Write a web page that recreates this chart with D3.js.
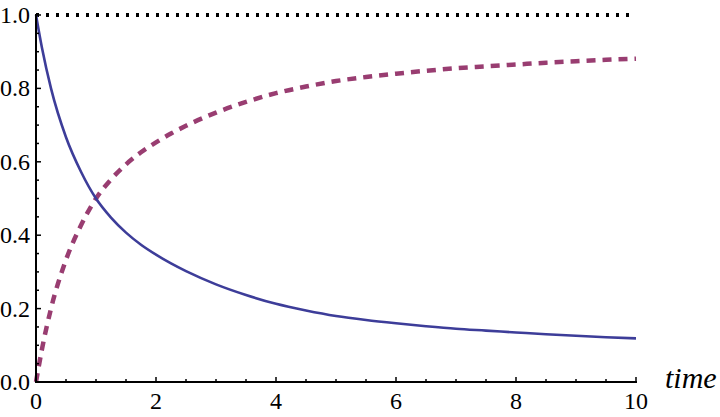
<!DOCTYPE html>
<html>
<head>
<meta charset="utf-8">
<script src="https://cdn.jsdelivr.net/npm/d3@7"></script>
<style>
html,body{margin:0;padding:0;background:#fff;}
svg{display:block;}
</style>
</head>
<body>
<svg id="chart" width="720" height="417"></svg>
<script>
// Data
const times   = [0,0.1,0.25,0.5,0.75,1,1.25,1.5,1.75,2,2.25,2.5,3,3.5,4,4.5,5,5.5,6,6.5,7,7.5,8,8.5,9,9.5,10];
const solidValues  = [1.0,0.91,0.80,0.667,0.573,0.50,0.448,0.407,0.374,0.347,0.323,0.302,0.266,0.237,0.213,0.195,0.180,0.169,0.160,0.152,0.145,0.140,0.135,0.130,0.126,0.122,0.119];
const dashedValues = [0.0,0.09,0.20,0.333,0.427,0.50,0.552,0.593,0.626,0.653,0.677,0.698,0.734,0.763,0.787,0.805,0.820,0.831,0.840,0.848,0.855,0.860,0.865,0.870,0.874,0.878,0.881];
const totalLevel = 1.0;
const xTicks = [0,2,4,6,8,10];
const yTicks = [0,0.2,0.4,0.6,0.8,1.0];
const xLabel = "time";

const FONT = "Liberation Serif, Tinos, Times New Roman, Times, DejaVu Serif, Noto Serif, FreeSerif, serif";

const svg = d3.select("#chart");
const x = d3.scaleLinear().domain([0,10]).range([36,636]);
const y = d3.scaleLinear().domain([0,1]).range([382,15]);

// reference dotted line
svg.append("line")
  .attr("x1", x(0)).attr("x2", x(10))
  .attr("y1", y(totalLevel)).attr("y2", y(totalLevel))
  .attr("stroke","#000").attr("stroke-width",4)
  .attr("stroke-dasharray","3,7");

const line = d3.line().x((d,i)=>x(times[i])).y(d=>y(d)).curve(d3.curveMonotoneX);

svg.append("path").attr("d", line(dashedValues))
  .attr("fill","none").attr("stroke","#993d71").attr("stroke-width",4.5)
  .attr("stroke-dasharray","9,7");

svg.append("path").attr("d", line(solidValues))
  .attr("fill","none").attr("stroke","#3d3d99").attr("stroke-width",2.6);

// axes
const xMinor = d3.range(0,10.001,0.5);
const yMinor = d3.range(0,1.0001,0.05);

const gx = svg.append("g");
gx.selectAll("line.minor").data(xMinor).enter().append("line")
  .attr("x1",d=>x(d)).attr("x2",d=>x(d))
  .attr("y1",y(0)).attr("y2",(d,i)=> (i%4===0) ? y(0)-5 : y(0)-3)
  .attr("stroke","#000").attr("stroke-width",1.5);
gx.append("line").attr("x1",x(0)-1).attr("x2",x(10)+1).attr("y1",y(0)).attr("y2",y(0))
  .attr("stroke","#000").attr("stroke-width",2);
gx.selectAll("text").data(xTicks).enter().append("text")
  .attr("x",d=>x(d)).attr("y",409)
  .attr("text-anchor","middle")
  .style("font-family",FONT).style("font-size","24px")
  .text(d=>d3.format("d")(d));

const gy = svg.append("g");
gy.selectAll("line.minor").data(yMinor).enter().append("line")
  .attr("x1",x(0)).attr("x2",(d,i)=> (i%4===0) ? x(0)+5 : x(0)+3)
  .attr("y1",d=>y(d)).attr("y2",d=>y(d))
  .attr("stroke","#000").attr("stroke-width",1.5);
gy.append("line").attr("x1",x(0)).attr("x2",x(0)).attr("y1",y(0)+1).attr("y2",y(1)-1)
  .attr("stroke","#000").attr("stroke-width",2);
gy.selectAll("text").data(yTicks).enter().append("text")
  .attr("x",30).attr("y",d=>y(d)+8)
  .attr("text-anchor","end")
  .style("font-family",FONT).style("font-size","24px")
  .text(d=>d3.format(".1f")(d));

svg.append("text").attr("x",665).attr("y",388)
  .style("font-family",FONT).style("font-size","30px").style("font-style","italic")
  .text(xLabel);
</script>
</body>
</html>
